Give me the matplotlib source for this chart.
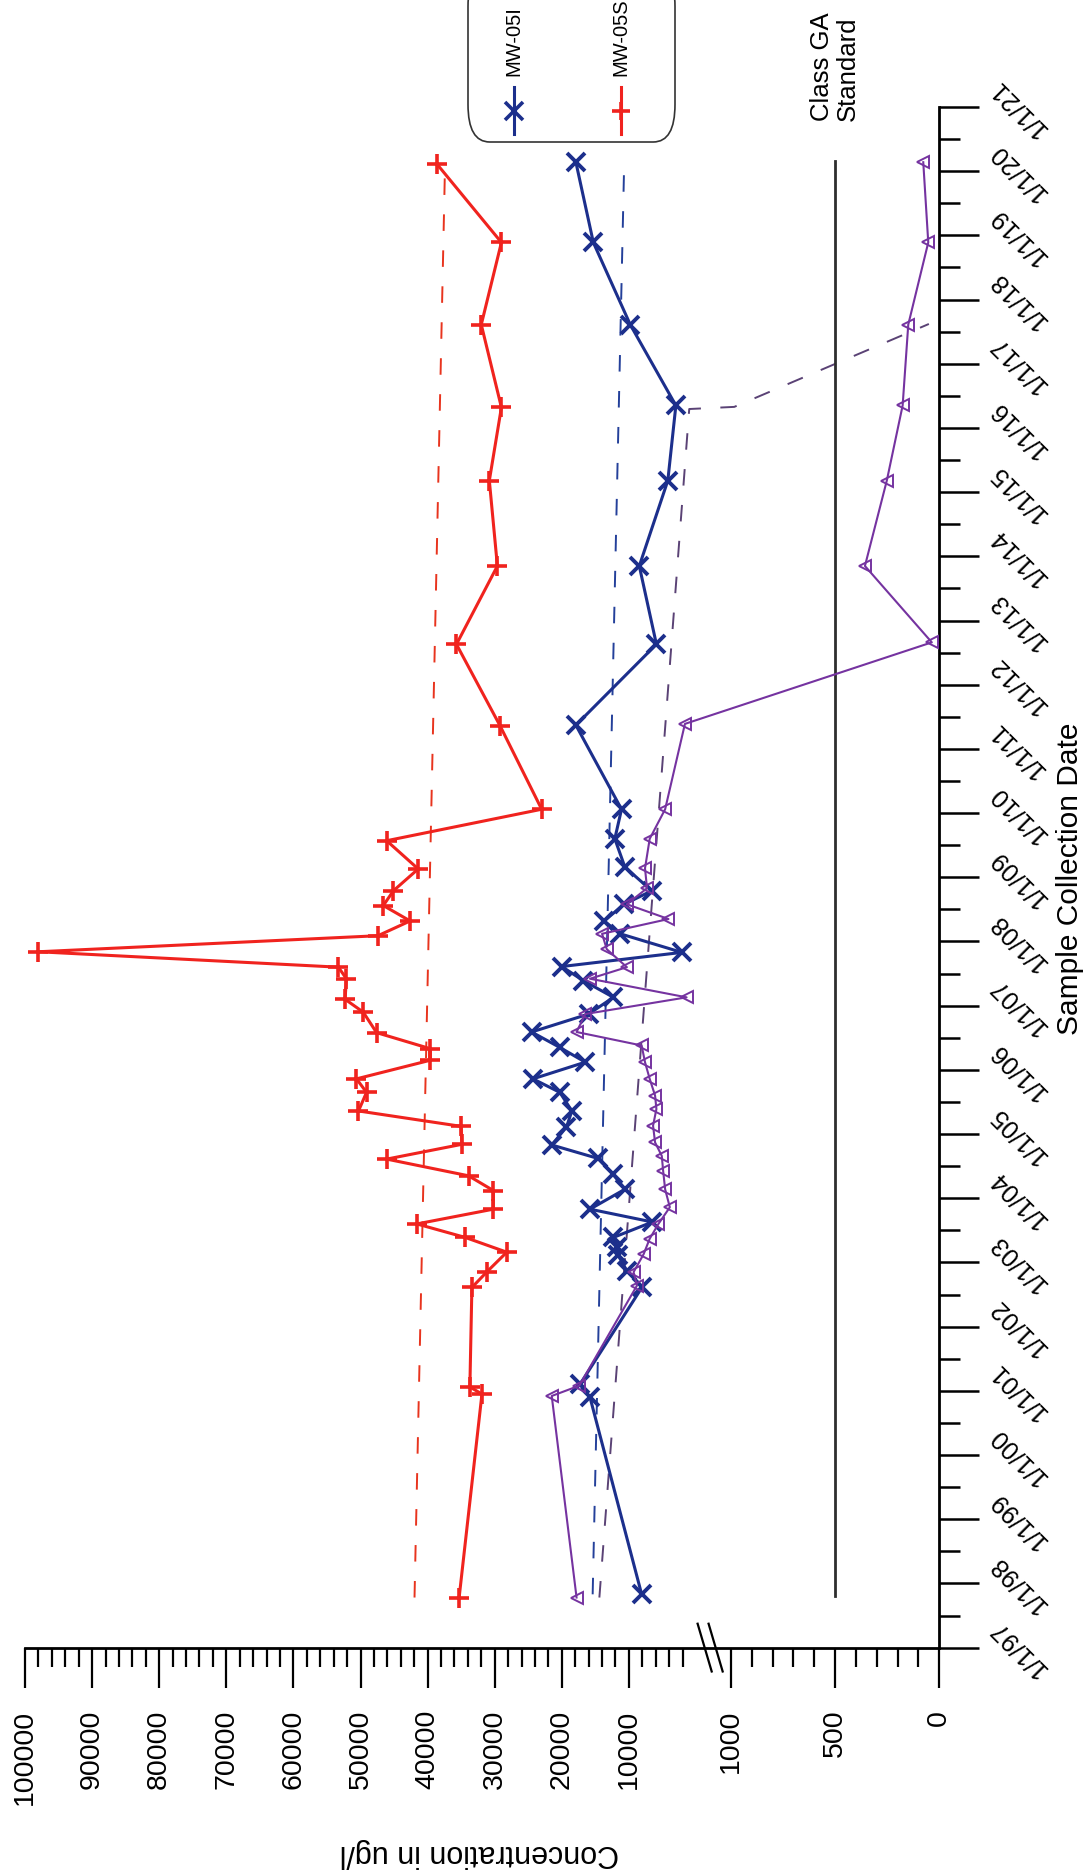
import numpy as np
import matplotlib
matplotlib.use("Agg")
import matplotlib.pyplot as plt
from matplotlib.patches import FancyBboxPatch
from matplotlib.lines import Line2D

plt.rcParams["font.family"] = ["Liberation Sans", "DejaVu Sans"]

# ---- sample data (dates as decimal years, concentrations in ug/l) ----
mw05s_dates = [1997.78, 2000.95, 2001.06, 2002.61, 2002.85, 2003.16, 2003.39,
               2003.60, 2003.83, 2004.12, 2004.35, 2004.61, 2004.84, 2005.12,
               2005.36, 2005.65, 2005.86, 2006.15, 2006.33, 2006.58, 2006.90,
               2007.10, 2007.42, 2007.60, 2007.84, 2008.09, 2008.32, 2008.56,
               2008.79, 2009.13, 2009.57, 2010.06, 2011.36, 2012.63, 2013.85,
               2015.18, 2016.32, 2017.61, 2018.89, 2020.11]
mw05s_conc = [35300, 31900, 33700, 33400, 31200, 28200, 34400,
              41600, 30200, 30200, 33900, 46100, 34900, 35000,
              50300, 49100, 50600, 39600, 39600, 47600, 49600,
              52300, 52100, 53300, 98000, 47400, 42600, 46600,
              45100, 41400, 46100, 23000, 29200, 35700, 29600,
              30800, 29000, 32000, 29000, 38600]

mw05i_dates = [1997.83, 2000.90, 2001.10, 2002.62, 2002.87, 2003.11, 2003.24,
               2003.39, 2003.63, 2003.83, 2004.14, 2004.38, 2004.62, 2004.83,
               2005.11, 2005.36, 2005.65, 2005.86, 2006.12, 2006.35, 2006.59,
               2006.87, 2007.13, 2007.39, 2007.61, 2007.83, 2008.12, 2008.32,
               2008.58, 2008.79, 2009.16, 2009.60, 2010.06, 2011.37, 2012.63,
               2013.85, 2015.18, 2016.35, 2017.61, 2018.89, 2020.14]
mw05i_conc = [8100, 15800, 17300, 8000, 10300, 11600, 11800,
              12300, 6500, 15800, 10600, 12400, 14600, 21500,
              19300, 18500, 20300, 24300, 16500, 20300, 24500,
              16000, 12300, 16800, 20000, 2100, 11300, 13700,
              10700, 6600, 10600, 12100, 11100, 17900, 5900,
              8450, 4200, 3000, 9800, 15300, 17900]

mw05d_dates = [1997.78, 2000.92, 2001.08, 2002.64, 2002.85, 2003.13, 2003.37,
               2003.60, 2003.86, 2004.14, 2004.43, 2004.66, 2004.87, 2005.13,
               2005.39, 2005.60, 2005.86, 2006.12, 2006.38, 2006.59, 2006.87,
               2007.13, 2007.42, 2007.60, 2007.88, 2008.12, 2008.35, 2008.58,
               2008.83, 2009.14, 2009.60, 2010.06, 2011.39, 2012.66, 2013.85,
               2015.18, 2016.35, 2017.61, 2018.89, 2020.14]
mw05d_conc = [17800, 21500, 17400, 8800, 9300, 7800, 6900,
              5600, 3900, 4600, 4900, 5100, 6100, 6400,
              5900, 6100, 6900, 7600, 8100, 17800, 16500,
              1400, 15800, 10300, 13300, 14000, 4100, 10300,
              7300, 7600, 6900, 4600, 1650, 36, 357,
              252, 176, 149, 53, 77]

# linear trend lines (start / end)
mw05s_trend_dates = [1997.78, 2020.11]
mw05s_trend_conc = [41950, 37400]
mw05i_trend_dates = [1997.83, 2020.14]
mw05i_trend_conc = [15400, 10700]
mw05d_trend_dates = [1997.78, 2017.62]
mw05d_trend_conc = [14400, 50]

standard_conc = 500
standard_dates = [1997.81, 2020.16]

conc_ticks = [0, 500, 1000, 10000, 20000, 30000, 40000, 50000,
              60000, 70000, 80000, 90000, 100000]
conc_labels = ["0", "500", "1000", "10000", "20000", "30000", "40000",
               "50000", "60000", "70000", "80000", "90000", "100000"]
years = list(range(1997, 2022))
year_labels = ["1/1/%02d" % (y % 100) for y in years]

# ---- broken concentration axis: 0-1000 stretched, 1000-100000 compressed ----
LOW = 0.2083      # units per ug/l below the break
HIGH = 0.00671    # units per ug/l above the break
OFFSET = 243.3    # where the upper segment starts


def fwd(v):
    v = np.asarray(v, dtype=float)
    return np.where(v <= 1000, v * LOW, OFFSET + v * HIGH)


def inv(p):
    p = np.asarray(p, dtype=float)
    lo = p / LOW
    hi = (p - OFFSET) / HIGH
    return np.where(p <= 1000 * LOW, lo,
                    np.where(p >= OFFSET + 1000 * HIGH, hi, 1000.0))


RED = "#f0231e"
BLUE = "#1c2f8c"
PURPLE = "#7533a0"

fig = plt.figure(figsize=(10.86, 18.74), dpi=100)
ax = fig.add_axes([25 / 1086, 1 - 1648.6 / 1874, 914.3 / 1086, 1540.6 / 1874])
ax.set_xscale("function", functions=(fwd, inv))
ax.set_xlim(100000, 0)
ax.set_ylim(1997, 2021)


def trend(dates, conc, color):
    # sample densely so the straight trend bends correctly across the break
    t = np.linspace(dates[0], dates[1], 600)
    v = np.interp(t, dates, conc)
    ax.plot(v, t, color=color, lw=1.4, dashes=(8.5, 10), zorder=2)


trend(mw05s_trend_dates, mw05s_trend_conc, "#e8341e")
trend(mw05i_trend_dates, mw05i_trend_conc, "#24409a")
trend(mw05d_trend_dates, mw05d_trend_conc, "#5a4275")

ax.plot([standard_conc, standard_conc], standard_dates, color="#2e2e2e",
        lw=2.0, zorder=2)
ax.text(standard_conc, 2020.8, "Class GA\nStandard", rotation=90,
        ha="center", va="bottom", multialignment="left", fontsize=18.5,
        linespacing=1.1)

ax.plot(mw05s_conc, mw05s_dates, color=RED, lw=2.2, marker="+", ms=14,
        mew=2.6, zorder=4)
ax.plot(mw05i_conc, mw05i_dates, color=BLUE, lw=2.2, marker="x", ms=12.5,
        mew=2.8, zorder=4)
ax.plot(mw05d_conc, mw05d_dates, color=PURPLE, lw=1.5, marker="<", ms=9,
        mfc="none", mec=PURPLE, mew=1.4, zorder=5)

# ---- axes styling ----
for side in ["top", "left"]:
    ax.spines[side].set_visible(False)
for side in ["right", "bottom"]:
    ax.spines[side].set_linewidth(2.0)

ax.set_xticks(conc_ticks)
ax.set_xticklabels(conc_labels, rotation=90)
minor_x = [v for v in range(100, 1000, 100) if v != 500]
minor_x += [v for v in range(2000, 100000, 2000) if v % 10000]
ax.set_xticks(minor_x, minor=True)
ax.xaxis.set_minor_formatter(plt.NullFormatter())

ax.yaxis.tick_right()
ax.set_yticks(years)
ax.set_yticklabels(year_labels)
ax.set_yticks(np.arange(1997.5, 2021, 1.0), minor=True)

ax.tick_params(axis="x", which="major", length=29, width=1.6, labelsize=20.5, pad=15)
ax.tick_params(axis="x", which="minor", length=14, width=1.6)
ax.tick_params(axis="y", which="major", length=29, width=1.8, labelsize=18,
               pad=4, labelrotation=135)
ax.tick_params(axis="y", which="minor", length=15, width=1.8)
for tick in ax.yaxis.get_major_ticks():
    for lbl in (tick.label1, tick.label2):
        lbl.set_rotation(135)
        lbl.set_va("center")
        lbl.set_ha("left")

# break marks on the concentration axis
bx = 1 - (1000 * LOW + OFFSET + 1000 * HIGH) / 2 / fwd(100000)
for dx in (-0.006, 0.006):
    ax.add_line(Line2D([bx + dx - 0.0077, bx + dx + 0.0077], [0.0155, -0.0155],
                       transform=ax.transAxes, color="black", lw=1.6,
                       clip_on=False))

ax.set_xlabel("Concentration in ug/l", fontsize=22, rotation=180, va="center")
ax.xaxis.set_label_coords(0.4975, -0.1327)
ax.yaxis.set_label_position("right")
ax.set_ylabel("Sample Collection Date", fontsize=21.5, rotation=90,
              va="center", ha="center")
ax.yaxis.set_label_coords(1.143, 0.5)

# ---- legend, drawn rotated in figure pixels ----
def fx(px):
    return px / 1086


def fy(py):
    return 1 - py / 1874


fig.patches.append(FancyBboxPatch((fx(468), fy(143)), fx(675) - fx(468),
                                  fy(-30) - fy(143), transform=fig.transFigure,
                                  boxstyle="round,pad=0,rounding_size=0.02",
                                  fc="white", ec="#333333", lw=1.2))
for xpos, color, marker, label in [(514, BLUE, "x", "MW-05I"),
                                   (621, RED, "+", "MW-05S")]:
    fig.add_artist(Line2D([fx(xpos), fx(xpos)], [fy(135), fy(88)],
                          transform=fig.transFigure, color=color, lw=2.2))
    fig.add_artist(Line2D([fx(xpos)], [fy(112)], transform=fig.transFigure,
                          color=color, marker=marker, ms=13, mew=2.6))
    fig.text(fx(xpos), fy(76), label, rotation=90, rotation_mode="anchor",
             ha="left", va="center", fontsize=14.5)

fig.savefig("out.png", dpi=100, facecolor="white")
